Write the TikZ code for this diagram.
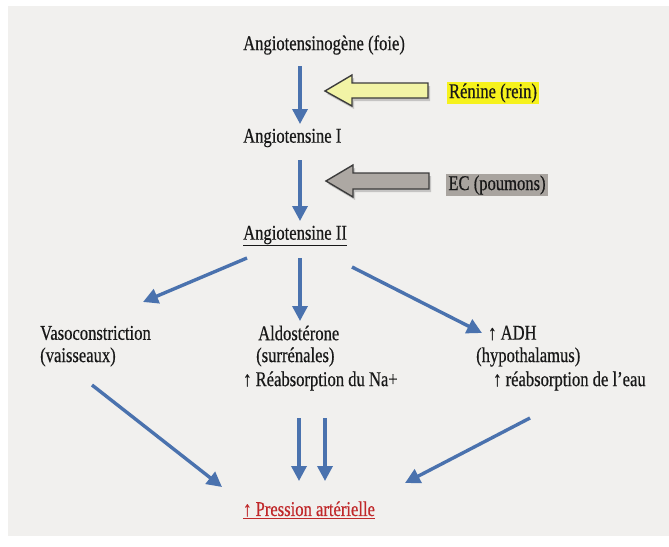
\documentclass[tikz,border=0pt]{standalone}
\usepackage{fontspec}
\setmainfont{Liberation Serif}[FakeStretch=0.79,FakeBold=0.5]
\usetikzlibrary{arrows.meta}
\definecolor{bg}{HTML}{F1F0EE}
\definecolor{arr}{HTML}{4A72AE}
\definecolor{yfill}{HTML}{F2F4A6}
\definecolor{gfill}{HTML}{ADA8A3}
\definecolor{hly}{HTML}{F6F21C}
\definecolor{hlg}{HTML}{A9A49F}
\definecolor{outl}{HTML}{3C3C3C}
\definecolor{pred}{HTML}{C0282A}
\begin{document}
\begin{tikzpicture}[x=1pt,y=-1pt,
  txt/.style={anchor=west,inner sep=0pt,font=\fontsize{21}{24}\selectfont,text=black!90},
  hl/.style={inner xsep=2pt,inner ysep=1pt,font=\fontsize{21}{24}\selectfont,text=black!90},
  flow/.style={draw=arr,line width=3.4pt,-{Triangle[length=15pt,width=15pt]}},
  blockarrow/.style={draw=outl,line width=1.4pt,line join=miter},
  blockshadow/.style={fill=black,opacity=0.18}]
\useasboundingbox (0,0) rectangle (669,546);
\fill[white] (0,0) rectangle (669,546);
\fill[bg] (8,6) rectangle (669,536);

% texts
\node[txt] (agen) at (243,45) {Angiotensinogène (foie)};
\node[txt] (a1) at (243,138) {Angiotensine I};
\node[txt] (a2) at (243,236) {\underline{Angiotensine II}};
\node[txt] (vaso) at (40,333) {Vasoconstriction};
\node[txt] (vais) at (40,357) {(vaisseaux)};
\node[txt] (aldo) at (258,333) {Aldostérone};
\node[txt] (surr) at (256,357) {(surrénales)};
\node[txt] (rena) at (243,381) {↑ Réabsorption du Na+};
\node[txt] (adh) at (488,333) {↑ ADH};
\node[txt] (hypo) at (476,357) {(hypothalamus)};
\node[txt] (reau) at (493,381) {↑ réabsorption de l’eau};
\node[txt,text=pred] (pa) at (243,510) {\underline{↑ Pression artérielle}};
\node[hl,fill=hly] (ren) at (493,93) {Rénine (rein)};
\node[hl,fill=hlg] (ec) at (497,185) {EC (poumons)};

% block arrows
\fill[blockshadow] (327,94) -- (354,78) -- (354,86) -- (430,86) -- (430,101) -- (354,101) -- (354,109) -- cycle;
\draw[blockarrow,fill=yfill] (325,91) -- (352,75) -- (352,83) -- (428,83) -- (428,98) -- (352,98) -- (352,106) -- cycle;
\fill[blockshadow] (328,184) -- (355,168) -- (355,176) -- (431,176) -- (431,192) -- (355,192) -- (355,200) -- cycle;
\draw[blockarrow,fill=gfill] (326,181) -- (353,165) -- (353,173) -- (429,173) -- (429,189) -- (353,189) -- (353,197) -- cycle;

% connector end points
\coordinate (s1) at (300,66);  \coordinate (e1) at (300,124);
\coordinate (s2) at (300,160); \coordinate (e2) at (300,221);
\coordinate (sl) at (247,258); \coordinate (el) at (143,302);
\coordinate (sm) at (300,258); \coordinate (em) at (300,321);
\coordinate (sr) at (352,267); \coordinate (er) at (482,333);
\coordinate (svl) at (92,385); \coordinate (evl) at (222,487);
\coordinate (sd1) at (299,418); \coordinate (ed1) at (299,481);
\coordinate (sd2) at (325,418); \coordinate (ed2) at (325,481);
\coordinate (srr) at (530,418); \coordinate (err) at (405,483);

\draw[flow] (s1) -- (e1);
\draw[flow] (s2) -- (e2);
\draw[flow] (sl) -- (el);
\draw[flow] (sm) -- (em);
\draw[flow] (sr) -- (er);
\draw[flow] (svl) -- (evl);
\draw[flow] (sd1) -- (ed1);
\draw[flow] (sd2) -- (ed2);
\draw[flow] (srr) -- (err);
\end{tikzpicture}
\end{document}
